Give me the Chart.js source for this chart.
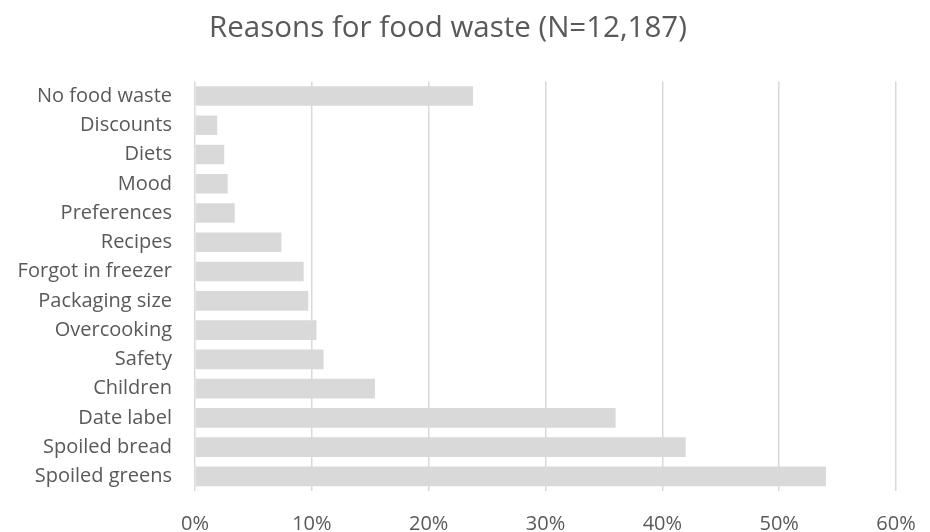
<!DOCTYPE html>
<html>
<head>
<meta charset="utf-8">
<script src="https://cdn.jsdelivr.net/npm/chart.js@4/dist/chart.umd.min.js"></script>
<style>
  html, body { margin: 0; padding: 0; background: #ffffff; }
  #wrap { width: 930px; height: 532px; }
</style>
</head>
<body>
<div id="wrap"><canvas id="c" width="930" height="532"></canvas></div>
<script>
// Survey reasons for discarding food, share of respondents (%)
const categories = [
  'No food waste', 'Discounts', 'Diets', 'Mood', 'Preferences', 'Recipes',
  'Forgot in freezer', 'Packaging size', 'Overcooking', 'Safety', 'Children',
  'Date label', 'Spoiled bread', 'Spoiled greens'
];
const shares = [23.8, 1.9, 2.5, 2.8, 3.4, 7.4, 9.3, 9.7, 10.4, 11.0, 15.4, 36.0, 42.0, 54.0];
const xTicks = [0, 10, 20, 30, 40, 50, 60];

const textColor = '#595959';
const fontFamily = "'Open Sans', 'Noto Sans', sans-serif";

new Chart(document.getElementById('c'), {
  type: 'bar',
  data: {
    labels: categories,
    datasets: [{
      data: shares,
      backgroundColor: '#d9d9d9',
      borderWidth: 0,
      barPercentage: 0.67,
      categoryPercentage: 1.0
    }]
  },
  options: {
    indexAxis: 'y',
    responsive: false,
    animation: false,
    layout: { padding: { left: 0, right: 34, top: 0, bottom: 0 } },
    plugins: {
      legend: { display: false },
      tooltip: { enabled: false },
      title: {
        display: true,
        text: 'Reasons for food waste (N=12,187)',
        color: textColor,
        font: { family: fontFamily, size: 29.5, weight: 'normal', lineHeight: 1.2 },
        padding: { top: 11, bottom: 35 }
      }
    },
    scales: {
      x: {
        min: 0,
        max: 60,
        afterBuildTicks: (scale) => { scale.ticks = xTicks.map(v => ({ value: v })); },
        afterFit: (scale) => {
          scale.height = 41;
          scale.paddingLeft = 0;
          scale.paddingRight = 0;
        },
        ticks: {
          color: textColor,
          font: { family: fontFamily, size: 20, lineHeight: 1.2 },
          padding: 21,
          callback: (v) => v + '%'
        },
        grid: { color: '#d9d9d9', lineWidth: 1.5, drawTicks: false },
        border: { display: false }
      },
      y: {
        afterFit: (scale) => { scale.width = 195; },
        ticks: {
          color: textColor,
          font: { family: fontFamily, size: 20 },
          padding: 23,
          autoSkip: false
        },
        grid: { display: false, drawTicks: false },
        border: { display: false }
      }
    }
  }
});
</script>
</body>
</html>
